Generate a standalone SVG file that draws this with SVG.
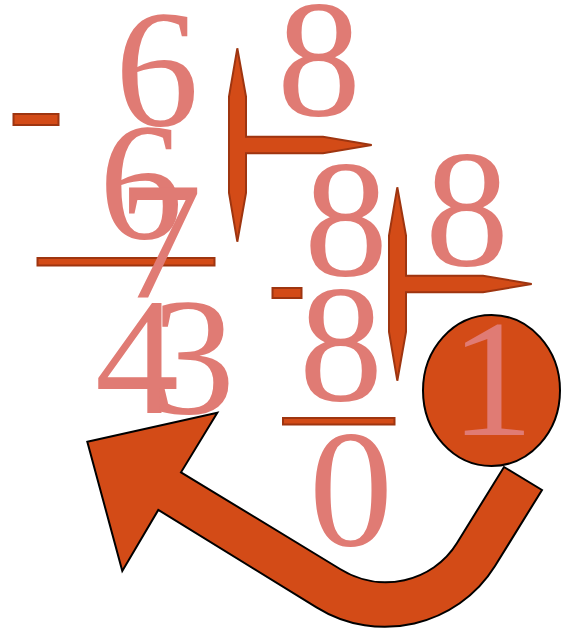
<svg xmlns="http://www.w3.org/2000/svg" width="561" height="632" viewBox="0 0 561 632">
<style>
.d{font-family:"Liberation Serif","DejaVu Serif",serif;font-size:168px;fill:#E07B74;text-anchor:middle}
.bar{fill:#D34B17;stroke:#9E3510;stroke-width:2}
.big{fill:#D34B17;stroke:#000;stroke-width:2;stroke-linejoin:miter}
</style>
<defs>
<path id="bracket" d="M237.3,48.3 L246,96.7 L246,136.7 L323,136.7 L371.7,145 L323,153.3 L246,153.3 L246,193 L237.3,241.7 L229,193 L229,96.7 Z"/>
</defs>
<g id="connectors">
<path class="big" d="M87.3,441.7 L217.3,412.7 L181,472.3 L340,569 C380,594 432.7,582.4 457,543 L504,467 L542,490 L495,566 C457.4,626.4 377,645 316.5,607.3 L158.3,510 L122.3,571 Z"/>
</g>
<g id="bracket1"><use href="#bracket" class="bar"/></g>
<g id="bracket2"><use href="#bracket" class="bar" transform="translate(160,139)"/></g>
<g id="minus1"><rect class="bar" x="13.5" y="114" width="45" height="11"/></g>
<g id="minus2"><rect class="bar" x="272.5" y="288" width="29" height="10"/></g>
<g id="line1"><rect class="bar" x="37.5" y="258" width="177" height="7.5"/></g>
<g id="line2"><rect class="bar" x="283" y="418" width="111.5" height="6.5"/></g>
<g id="circle"><ellipse class="big" cx="491.5" cy="390.5" rx="68.5" ry="75.5"/></g>
<g id="digits">
<text class="d" x="157" y="125">6</text>
<text class="d" x="319" y="115">8</text>
<text class="d" x="141" y="238">6</text>
<text class="d" x="160" y="297">7</text>
<text class="d" x="137" y="413">4</text>
<text class="d" x="193" y="413">3</text>
<text class="d" x="346" y="275">8</text>
<text class="d" x="467" y="265">8</text>
<text class="d" x="341" y="400">8</text>
<text class="d" x="351" y="545">0</text>
<text class="d" x="492" y="435">1</text>
</g>
</svg>
